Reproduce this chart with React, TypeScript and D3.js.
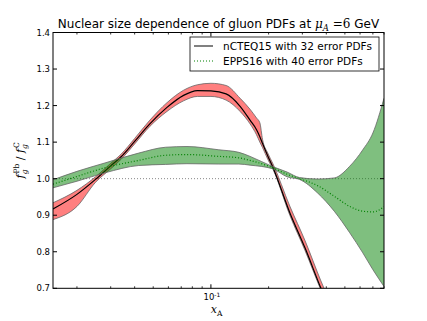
import React from 'react';
import * as d3 from 'd3';

// axis ticks
const yTicks = [0.7, 0.8, 0.9, 1.0, 1.1, 1.2, 1.3, 1.4];
const xMajor = [0.1];
const xMinor = [0.02, 0.03, 0.04, 0.05, 0.06, 0.07, 0.08, 0.09, 0.2, 0.3, 0.4, 0.5, 0.6, 0.7, 0.8];

// nCTEQ15 (central + error band)
const nX = [0.015, 0.02, 0.025, 0.03, 0.034, 0.04, 0.048, 0.059, 0.072, 0.085, 0.1, 0.12, 0.142, 0.16, 0.173, 0.18, 0.186, 0.198, 0.211, 0.258, 0.31, 0.375, 0.42];
const nCentral = [0.917, 0.957, 0.998, 1.035, 1.06, 1.102, 1.15, 1.195, 1.228, 1.241, 1.24, 1.232, 1.198, 1.16, 1.134, 1.115, 1.096, 1.062, 1.03, 0.907, 0.81, 0.7, 0.64];
const nUpper = [0.934, 0.968, 1.005, 1.042, 1.067, 1.11, 1.16, 1.208, 1.242, 1.257, 1.261, 1.255, 1.22, 1.19, 1.166, 1.153, 1.107, 1.07, 1.04, 0.925, 0.83, 0.72, 0.66];
const nLower = [0.888, 0.924, 0.99, 1.027, 1.053, 1.095, 1.143, 1.184, 1.213, 1.225, 1.225, 1.215, 1.184, 1.15, 1.12, 1.1, 1.085, 1.053, 1.025, 0.9, 0.803, 0.695, 0.635];

// EPPS16 (central + error band)
const eX = [0.015, 0.02, 0.028, 0.042, 0.058, 0.075, 0.11, 0.14, 0.16, 0.21, 0.25, 0.29, 0.36, 0.44, 0.53, 0.62, 0.7, 0.8];
const eCentral = [0.985, 1.006, 1.03, 1.05, 1.064, 1.066, 1.061, 1.057, 1.05, 1.03, 1.012, 1.0, 0.981, 0.952, 0.924, 0.911, 0.909, 0.923];
const eUpper = [0.997, 1.02, 1.043, 1.07, 1.086, 1.088, 1.079, 1.072, 1.061, 1.033, 1.018, 1.003, 0.999, 1.002, 1.034, 1.079, 1.125, 1.22];
const eLower = [0.975, 0.993, 1.016, 1.036, 1.039, 1.041, 1.04, 1.04, 1.037, 1.027, 1.005, 0.998, 0.961, 0.911, 0.852, 0.797, 0.751, 0.705];

const W = 427, H = 321;
const L = 53, R = 384, T = 32.5, B = 288.3;
const SANS = 'DejaVu Sans';
const MATH = 'DejaVu Serif';

export default function App() {
  const x = d3.scaleLog().domain([0.015, 0.8]).range([L, R]);
  const y = d3.scaleLinear().domain([0.7, 1.4]).range([B, T]);

  const band = (xs: number[], lo: number[], hi: number[]) =>
    d3.area<number>()
      .x(i => x(xs[i]))
      .y0(i => y(lo[i]))
      .y1(i => y(hi[i]))
      .curve(d3.curveMonotoneX)(d3.range(xs.length)) || '';
  const line = (xs: number[], ys: number[]) =>
    d3.line<number>()
      .x(i => x(xs[i]))
      .y(i => y(ys[i]))
      .curve(d3.curveMonotoneX)(d3.range(xs.length)) || '';

  return (
    <svg width={W} height={H} style={{ position: 'absolute', left: 0, top: 0, background: '#fff' }}>
      <defs>
        <clipPath id="plot">
          <rect x={L} y={T} width={R - L} height={B - T} />
        </clipPath>
      </defs>

      <g clipPath="url(#plot)">
        <line x1={L} x2={R} y1={y(1)} y2={y(1)} stroke="#888" strokeWidth={1} strokeDasharray="1,2" />

        <path d={band(nX, nLower, nUpper)} fill="red" fillOpacity={0.5} stroke="none" />
        <path d={line(nX, nUpper)} fill="none" stroke="#666" strokeWidth={0.8} />
        <path d={line(nX, nLower)} fill="none" stroke="#666" strokeWidth={0.8} />
        <path d={line(nX, nCentral)} fill="none" stroke="#000" strokeWidth={1.2} />

        <path d={band(eX, eLower, eUpper)} fill="green" fillOpacity={0.5} stroke="none" />
        <path d={line(eX, eUpper)} fill="none" stroke="#666" strokeWidth={0.8} />
        <path d={line(eX, eLower)} fill="none" stroke="#666" strokeWidth={0.8} />
        <path d={line(eX, eCentral)} fill="none" stroke="green" strokeWidth={1.2} strokeDasharray="1,2" />
      </g>

      {/* frame */}
      <rect x={L} y={T} width={R - L} height={B - T} fill="none" stroke="#000" strokeWidth={1} />

      {/* y ticks */}
      {yTicks.map(t => (
        <g key={'y' + t}>
          <line x1={L} x2={L + 4} y1={y(t)} y2={y(t)} stroke="#000" />
          <line x1={R} x2={R - 4} y1={y(t)} y2={y(t)} stroke="#000" />
          <text x={L - 3} y={y(t) + 3} fontFamily={SANS} fontSize={8.5} textAnchor="end">{t.toFixed(1)}</text>
        </g>
      ))}

      {/* x ticks */}
      {xMajor.map(t => (
        <g key={'xm' + t}>
          <line x1={x(t)} x2={x(t)} y1={B} y2={B - 4} stroke="#000" />
          <line x1={x(t)} x2={x(t)} y1={T} y2={T + 4} stroke="#000" />
          <text x={x(t) + 1} y={B + 12} fontFamily={SANS} fontSize={8.5} textAnchor="middle">
            10<tspan dy={-3.5} fontSize={6}>-1</tspan>
          </text>
        </g>
      ))}
      {xMinor.map(t => (
        <g key={'xn' + t}>
          <line x1={x(t)} x2={x(t)} y1={B} y2={B - 2} stroke="#000" strokeWidth={0.8} />
          <line x1={x(t)} x2={x(t)} y1={T} y2={T + 2} stroke="#000" strokeWidth={0.8} />
        </g>
      ))}

      {/* title */}
      <text x={(L + R) / 2} y={28} fontFamily={SANS} fontSize={12} textAnchor="middle">
        Nuclear size dependence of gluon PDFs at{' '}
        <tspan fontFamily={MATH} fontStyle="italic">μ</tspan>
        <tspan fontFamily={MATH} fontStyle="italic" fontSize={8.5} dy={2.5}>A</tspan>
        <tspan fontFamily={MATH} dy={-2.5}> =6</tspan>
        <tspan> GeV</tspan>
      </text>

      {/* x label */}
      <text x={(L + R) / 2 - 2} y={313} fontFamily={MATH} fontSize={11} textAnchor="middle">
        <tspan fontStyle="italic">x</tspan>
        <tspan fontSize={7.5} dy={2.5}>A</tspan>
      </text>

      {/* y label */}
      <text transform={`translate(24,${(T + B) / 2}) rotate(-90)`} fontFamily={MATH} fontSize={11} textAnchor="middle">
        <tspan fontStyle="italic">f</tspan>
        <tspan fontStyle="italic" fontSize={7.5} dy={3}>g</tspan>
        <tspan fontSize={7.5} dx={-4} dy={-8}>Pb</tspan>
        <tspan dy={5}> / </tspan>
        <tspan fontStyle="italic">f</tspan>
        <tspan fontStyle="italic" fontSize={7.5} dy={3}>g</tspan>
        <tspan fontSize={7.5} dx={-4} dy={-8}>C</tspan>
      </text>

      {/* legend */}
      <rect x={190} y={37} width={189} height={34} fill="#fff" stroke="#000" strokeWidth={0.8} />
      <line x1={194} x2={213} y1={46} y2={46} stroke="#808080" strokeWidth={2} />
      <text x={223} y={49.5} fontFamily={SANS} fontSize={10.5}>nCTEQ15 with 32 error PDFs</text>
      <line x1={194} x2={213} y1={61} y2={61} stroke="green" strokeWidth={1} strokeDasharray="1,2" />
      <text x={223} y={64.5} fontFamily={SANS} fontSize={10.5}>EPPS16 with 40 error PDFs</text>
    </svg>
  );
}
